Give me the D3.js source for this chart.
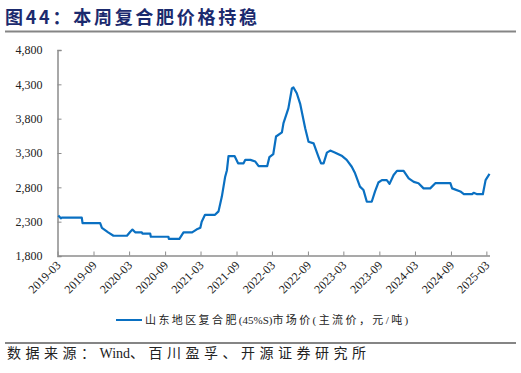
<!DOCTYPE html>
<html>
<head>
<meta charset="utf-8">
<script src="https://cdn.jsdelivr.net/npm/d3@7"></script>
<style>
  body { margin: 0; background: #fff; }
  svg { display: block; }
</style>
</head>
<body>
<div id="chart"></div>
<script>
// price series (yuan/ton)
var dates = ["2019-03-05","2019-03-18","2019-03-23","2019-07-03","2019-07-07","2019-10-05","2019-10-14","2019-11-15","2019-12-12","2020-02-19",
  "2020-03-06","2020-03-18","2020-04-01","2020-05-05","2020-05-08","2020-06-17","2020-06-20","2020-09-18","2020-09-20","2020-11-13",
  "2020-12-04","2021-01-17","2021-02-08","2021-02-28","2021-03-07","2021-03-24","2021-05-14","2021-06-01","2021-06-18","2021-07-05",
  "2021-07-14","2021-07-22","2021-08-22","2021-09-09","2021-10-07","2021-10-16","2021-11-11","2021-12-06","2021-12-23","2022-02-05",
  "2022-02-16","2022-03-08","2022-03-22","2022-04-21","2022-04-29","2022-05-24","2022-06-11","2022-06-19","2022-07-06","2022-07-23",
  "2022-08-18","2022-09-04","2022-09-30","2022-10-25","2022-11-07","2022-11-20","2022-12-07","2022-12-24","2023-01-19","2023-02-23",
  "2023-03-18","2023-04-13","2023-04-30","2023-05-25","2023-06-12","2023-06-29","2023-07-24","2023-08-10","2023-08-27","2023-09-14",
  "2023-10-09","2023-10-23","2023-11-13","2023-11-30","2024-01-03","2024-01-29","2024-02-24","2024-03-19","2024-04-14","2024-05-18",
  "2024-06-13","2024-08-29","2024-09-07","2024-10-19","2024-11-06","2024-12-18","2024-12-26","2025-01-13","2025-02-11","2025-02-25",
  "2025-03-17"];
var prices = [2390,2350,2360,2360,2280,2280,2210,2145,2095,2095,
  2150,2185,2145,2145,2125,2125,2080,2080,2050,2050,
  2145,2145,2185,2210,2300,2400,2400,2450,2665,2955,
  3050,3255,3255,3150,3150,3200,3200,3175,3110,3110,
  3240,3285,3540,3600,3735,3950,4240,4255,4170,4020,
  3660,3465,3440,3245,3150,3150,3305,3335,3305,3255,
  3200,3100,3005,2810,2760,2590,2590,2740,2870,2905,
  2905,2850,2980,3040,3040,2930,2880,2860,2785,2785,
  2860,2860,2785,2740,2700,2700,2720,2700,2700,2905,
  2995];
var xTicks = ["2019-03","2019-09","2020-03","2020-09","2021-03","2021-09","2022-03",
  "2022-09","2023-03","2023-09","2024-03","2024-09","2025-03"];
var yTicks = [1800,2300,2800,3300,3800,4300,4800];

var titleText = "图44：本周复合肥价格持稳";
// text pieces: [string, spaced?]
var legendParts = [["山东地区复合肥", true], ["(45%S)", false], ["市场价(主流价，元/吨)", true]];
var sourceParts = [["数据来源：", true], ["Wind", false], ["、百川盈孚、开源证券研究所", true]];

var W = 521, H = 373;
var lineColor = "#0a70c2";
var axisColor = "#8c8c8c";
var serif = "'Liberation Serif','Times New Roman',serif";
var mixed = "'Liberation Serif','Noto Sans CJK SC',serif";

var parseDay = d3.timeParse("%Y-%m-%d");
var parseMonth = d3.timeParse("%Y-%m");
var data = dates.map(function(d, i) { return {date: parseDay(d), value: prices[i]}; });

var svg = d3.select("#chart")
  .append("svg")
  .attr("width", W)
  .attr("height", H);

// title + rule
svg.append("text")
  .attr("x", 5)
  .attr("y", 24)
  .attr("font-family", "'Noto Sans CJK SC',sans-serif")
  .attr("font-weight", "bold")
  .attr("font-size", "18px")
  .attr("fill", "#1b2a6e")
  .attr("textLength", 252)
  .attr("lengthAdjust", "spacing")
  .text(titleText);

svg.append("line")
  .attr("x1", 5).attr("x2", 516)
  .attr("y1", 31.5).attr("y2", 31.5)
  .style("stroke", "#858585")
  .style("stroke-width", 2);

// scales
var x = d3.scaleTime()
  .domain([parseMonth("2019-03"), parseDay("2025-03-17")])
  .range([57.5, 489.5]);

var y = d3.scaleLinear()
  .domain([1800, 4800])
  .range([256, 50]);

// y axis
var gy = svg.append("g")
  .attr("transform", "translate(57.5,0)")
  .call(d3.axisLeft(y)
    .tickValues(yTicks)
    .tickFormat(d3.format(","))
    .tickSize(-4)
    .tickPadding(15));
gy.select(".domain").style("stroke", axisColor).style("stroke-width", 1.5);
gy.selectAll(".tick line").style("stroke", axisColor);
gy.selectAll(".tick text")
  .attr("font-family", serif)
  .attr("font-size", "12px")
  .attr("fill", "#222");

// x axis
var gx = svg.append("g")
  .attr("transform", "translate(0,255.5)")
  .call(d3.axisBottom(x)
    .tickValues(xTicks.map(parseMonth))
    .tickFormat("")
    .tickSize(-4)
    .tickSizeOuter(0));
gx.select(".domain").style("stroke", axisColor).style("stroke-width", 1.5);
gx.selectAll(".tick line").style("stroke", axisColor);

svg.selectAll(".xlab")
  .data(xTicks)
  .enter()
  .append("text")
  .attr("class", "xlab")
  .attr("transform", function(d) { return "translate(" + (x(parseMonth(d)) + 4) + ",266) rotate(-45)"; })
  .attr("text-anchor", "end")
  .attr("font-family", serif)
  .attr("font-size", "12px")
  .attr("fill", "#222")
  .text(function(d) { return d; });

// the price line
var line = d3.line()
  .x(function(d) { return x(d.date); })
  .y(function(d) { return y(d.value); });

svg.append("path")
  .datum(data)
  .attr("d", line)
  .style("fill", "none")
  .style("stroke", lineColor)
  .style("stroke-width", 2.2)
  .style("stroke-linejoin", "round");

// helper: text made of spaced CJK runs and tight latin runs
function partText(parts, xPos, yPos, size, spacing) {
  var t = svg.append("text")
    .attr("x", xPos)
    .attr("y", yPos)
    .attr("font-family", mixed)
    .attr("font-size", size)
    .attr("fill", "#222");
  t.selectAll("tspan")
    .data(parts)
    .enter()
    .append("tspan")
    .style("letter-spacing", function(d) { return d[1] ? spacing + "px" : "0px"; })
    .text(function(d) { return d[0]; });
  return t;
}

// legend
svg.append("line")
  .attr("x1", 116).attr("x2", 142)
  .attr("y1", 320).attr("y2", 320)
  .style("stroke", lineColor)
  .style("stroke-width", 2);

partText(legendParts, 145, 324, "11px", 2.4);

// source
svg.append("line")
  .attr("x1", 5).attr("x2", 516)
  .attr("y1", 343).attr("y2", 343)
  .style("stroke", "#858585")
  .style("stroke-width", 2);

partText(sourceParts, 7, 358, "14px", 4.5);
</script>
</body>
</html>
